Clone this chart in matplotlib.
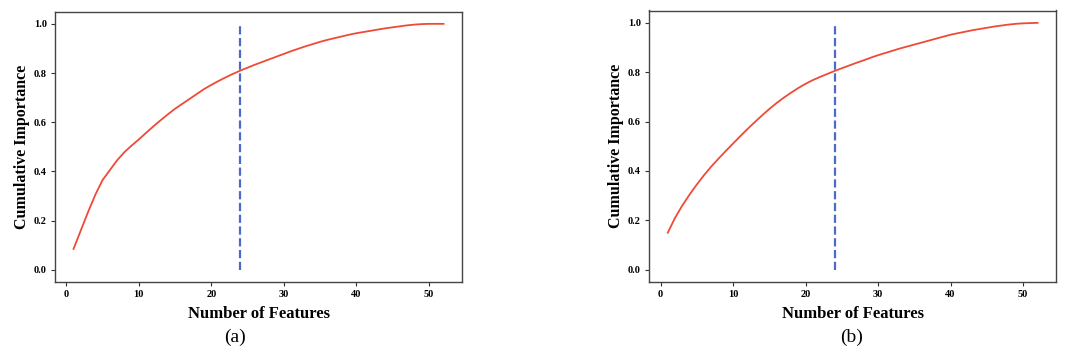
import numpy as np
import matplotlib
matplotlib.use("Agg")
import matplotlib.pyplot as plt

plt.rcParams["font.family"] = ["Liberation Serif", "DejaVu Serif"]

# number of features kept (1..52)
n_features = list(range(1, 53))

# (a) cumulative importance
cum_a = [0.085, 0.160, 0.235, 0.305, 0.365, 0.405, 0.445, 0.478, 0.505, 0.530,
         0.557, 0.583, 0.608, 0.632, 0.655, 0.675, 0.695, 0.715, 0.735, 0.752,
         0.768, 0.783, 0.797, 0.810, 0.822, 0.834, 0.845, 0.856, 0.867, 0.878,
         0.889, 0.899, 0.909, 0.918, 0.927, 0.935, 0.942, 0.949, 0.956, 0.962,
         0.967, 0.972, 0.977, 0.982, 0.986, 0.990, 0.994, 0.997, 0.999, 1.000,
         1.000, 1.000]

# (b) cumulative importance
cum_b = [0.150, 0.210, 0.260, 0.304, 0.345, 0.383, 0.418, 0.450, 0.481, 0.511,
         0.541, 0.570, 0.598, 0.625, 0.651, 0.675, 0.697, 0.717, 0.736, 0.753,
         0.768, 0.781, 0.793, 0.805, 0.816, 0.827, 0.838, 0.848, 0.859, 0.869,
         0.878, 0.887, 0.896, 0.904, 0.912, 0.920, 0.928, 0.936, 0.944, 0.952,
         0.958, 0.964, 0.970, 0.975, 0.980, 0.985, 0.989, 0.993, 0.996, 0.998,
         0.999, 1.000]

cutoff = 24
captions = ["(a)", "(b)"]
caption_x = [235 / 1073, 852 / 1073]

fig = plt.figure(figsize=(10.73, 3.5), dpi=100)
ax_a = fig.add_axes([0.0513, 0.194, 0.3793, 0.773])
ax_b = fig.add_axes([0.6051, 0.194, 0.3791, 0.776])

for ax, ys, cap, cx in zip([ax_a, ax_b], [cum_a, cum_b], captions, caption_x):
    ax.plot(n_features, ys, color="#f04a36", lw=1.3)
    ax.vlines(cutoff, 0, 1, colors="#4a6cc8", linestyles="--", lw=1.6)
    ax.set_xticks([0, 10, 20, 30, 40, 50])
    ax.set_yticks([0.0, 0.2, 0.4, 0.6, 0.8, 1.0])
    ax.set_yticklabels(["0.0", "0.2", "0.4", "0.6", "0.8", "1.0"])
    for lab in ax.get_xticklabels() + ax.get_yticklabels():
        lab.set_fontweight("bold")
        lab.set_fontsize(7.5)
    ax.tick_params(length=3, width=0.8, color="#333333", pad=3)
    for sp in ax.spines.values():
        sp.set_color("#444444")
        sp.set_linewidth(1.0)
    ax.set_xlabel("Number of Features", fontsize=12, fontweight="bold", labelpad=5)
    ax.set_ylabel("Cumulative Importance", fontsize=11.5, fontweight="bold", labelpad=3)
    # subfigure caption near the bottom edge
    fig.text(cx, 1 - 337 / 350, cap, ha="center", va="center", fontsize=14)

fig.savefig("out.png", dpi=100)
